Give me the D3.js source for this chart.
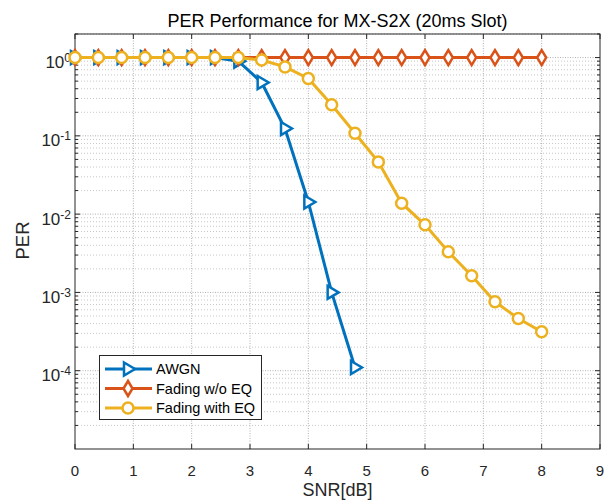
<!DOCTYPE html>
<html>
<head>
<meta charset="utf-8">
<script src="https://cdn.jsdelivr.net/npm/d3@7"></script>
<style>
  body { margin: 0; background: #fff; }
  text { font-family: "Liberation Sans", Arial, sans-serif; }
</style>
</head>
<body>
<div id="container"></div>
<script>
let w = 613;
let h = 500;
let margin = {top: 34, right: 13, bottom: 51, left: 75};

// DATA
let snr = [0, 0.4, 0.8, 1.2, 1.6, 2.0, 2.4, 2.8, 3.2, 3.6, 4.0, 4.4, 4.8, 5.2, 5.6, 6.0, 6.4, 6.8, 7.2, 7.6, 8.0];
let awgnSnr = [0, 0.4, 0.8, 1.2, 1.6, 2.0, 2.4, 2.8, 3.2, 3.6, 4.0, 4.4, 4.8];
let awgnPer = [1, 1, 1, 1, 1, 1, 1, 0.9, 0.48, 0.124, 0.0143, 0.001, 1.1e-4];
let noEqPer = [1, 1, 1, 1, 1, 1, 1, 1, 1, 1, 1, 1, 1, 1, 1, 1, 1, 1, 1, 1, 1];
let withEqPer = [1, 1, 1, 1, 1, 1, 1, 1, 0.93, 0.76, 0.54, 0.25, 0.108, 0.0465, 0.0138, 0.0073, 0.0033, 0.00163, 7.6e-4, 4.65e-4, 3.15e-4];
let xTicks = [0, 1, 2, 3, 4, 5, 6, 7, 8, 9];
let yExps = [0, -1, -2, -3, -4];
let seriesNames = ["AWGN", "Fading w/o EQ", "Fading with EQ"];

let colors = ["#0072BD", "#D95319", "#EDB120"];
let axisColor = "#262626";

let svg = d3.select("#container").append("svg")
    .attr("width", w)
    .attr("height", h);

let x = d3.scaleLinear().domain([0, 9]).range([margin.left, w - margin.right]);
let y = d3.scaleLog().domain([1e-5, 2]).range([h - margin.bottom, margin.top]);

let x0 = margin.left, x1 = w - margin.right;
let y0 = h - margin.bottom, y1 = margin.top;

// minor grid (log)
let minorVals = [];
for (let e = -5; e <= 0; e++) {
  for (let m = 2; m <= 9; m++) {
    let v = m * Math.pow(10, e);
    if (v <= 2) minorVals.push(v);
  }
}
svg.append("g").selectAll("line").data(minorVals).enter().append("line")
    .attr("x1", x0).attr("x2", x1)
    .attr("y1", d => y(d)).attr("y2", d => y(d))
    .attr("stroke", "#c8c8c8").attr("stroke-width", 1)
    .attr("stroke-dasharray", "1,2");

// major grid
svg.append("g").selectAll("line").data(xTicks.slice(1, -1)).enter().append("line")
    .attr("x1", d => x(d)).attr("x2", d => x(d))
    .attr("y1", y0).attr("y2", y1)
    .attr("stroke", "#b0b0b0").attr("stroke-width", 1)
    .attr("stroke-dasharray", "1,1.5");
svg.append("g").selectAll("line").data(yExps).enter().append("line")
    .attr("x1", x0).attr("x2", x1)
    .attr("y1", d => y(Math.pow(10, d))).attr("y2", d => y(Math.pow(10, d)))
    .attr("stroke", "#b0b0b0").attr("stroke-width", 1)
    .attr("stroke-dasharray", "1,1.5");

// box
svg.append("rect")
    .attr("x", x0).attr("y", y1)
    .attr("width", x1 - x0).attr("height", y0 - y1)
    .attr("fill", "none").attr("stroke", axisColor).attr("stroke-width", 1);

// ticks (inward)
let tk = svg.append("g").attr("stroke", axisColor).attr("stroke-width", 1);
xTicks.forEach(t => {
  tk.append("line").attr("x1", x(t)).attr("x2", x(t)).attr("y1", y0).attr("y2", y0 - 5);
  tk.append("line").attr("x1", x(t)).attr("x2", x(t)).attr("y1", y1).attr("y2", y1 + 5);
});
yExps.forEach(e => {
  let yy = y(Math.pow(10, e));
  tk.append("line").attr("x1", x0).attr("x2", x0 + 5).attr("y1", yy).attr("y2", yy);
  tk.append("line").attr("x1", x1).attr("x2", x1 - 5).attr("y1", yy).attr("y2", yy);
});
minorVals.forEach(v => {
  let yy = y(v);
  tk.append("line").attr("x1", x0).attr("x2", x0 + 3).attr("y1", yy).attr("y2", yy);
  tk.append("line").attr("x1", x1).attr("x2", x1 - 3).attr("y1", yy).attr("y2", yy);
});

// tick labels
svg.append("g").selectAll("text").data(xTicks).enter().append("text")
    .attr("x", d => x(d)).attr("y", y0 + 27)
    .attr("text-anchor", "middle")
    .attr("font-size", 15).attr("fill", axisColor)
    .text(d => d);

let yl = svg.append("g").selectAll("text").data(yExps).enter().append("text")
    .attr("x", x0 - 4).attr("y", d => y(Math.pow(10, d)) + 10.5)
    .attr("text-anchor", "end")
    .attr("font-size", 17).attr("fill", axisColor);
yl.append("tspan").text("10");
yl.append("tspan").attr("dy", -6).attr("font-size", 12).text(d => d);

// title and labels
svg.append("text")
    .attr("x", (x0 + x1) / 2).attr("y", 27)
    .attr("text-anchor", "middle")
    .attr("font-size", 18).attr("fill", "#000")
    .text("PER Performance for MX-S2X (20ms Slot)");
svg.append("text")
    .attr("x", (x0 + x1) / 2).attr("y", y0 + 47)
    .attr("text-anchor", "middle")
    .attr("font-size", 18).attr("fill", axisColor)
    .text("SNR[dB]");
svg.append("text")
    .attr("transform", "translate(29," + ((y0 + y1) / 2 - 1) + ") rotate(-90)")
    .attr("text-anchor", "middle")
    .attr("font-size", 18.5).attr("fill", axisColor)
    .text("PER");

// markers
function drawMarker(g, type, color) {
  if (type === 0) {
    g.append("path").attr("d", "M-4,-6.5 L7,0 L-4,6.5 Z");
  } else if (type === 1) {
    g.append("path").attr("d", "M0,-7.5 L4.5,0 L0,7.5 L-4.5,0 Z");
  } else {
    g.append("circle").attr("r", 5.5);
  }
  g.selectAll("path,circle")
    .attr("fill", "#fff").attr("stroke", color).attr("stroke-width", 2.5);
}

let series = [
  {xs: awgnSnr, ys: awgnPer},
  {xs: snr, ys: noEqPer},
  {xs: snr, ys: withEqPer}
];

let line = d3.line().x(d => x(d[0])).y(d => y(d[1]));
series.forEach((s, i) => {
  let pts = s.xs.map((v, j) => [v, s.ys[j]]);
  let g = svg.append("g");
  g.append("path").datum(pts)
      .attr("d", line)
      .attr("fill", "none").attr("stroke", colors[i]).attr("stroke-width", 3);
  pts.forEach(p => {
    let mg = g.append("g").attr("transform", "translate(" + x(p[0]) + "," + y(p[1]) + ")");
    drawMarker(mg, i, colors[i]);
  });
});

// legend
let lg = svg.append("g");
lg.append("rect")
    .attr("x", 99.5).attr("y", 355.5).attr("width", 162).attr("height", 64)
    .attr("fill", "#fff").attr("stroke", axisColor).attr("stroke-width", 1);
seriesNames.forEach((name, i) => {
  let yy = 369 + i * 19.5;
  lg.append("line").attr("x1", 105).attr("x2", 152).attr("y1", yy).attr("y2", yy)
      .attr("stroke", colors[i]).attr("stroke-width", 3);
  let mg = lg.append("g").attr("transform", "translate(128," + yy + ")");
  drawMarker(mg, i, colors[i]);
  lg.append("text").attr("x", 156).attr("y", yy + 5)
      .attr("font-size", 14.5).attr("fill", "#000").text(name);
});
</script>
</body>
</html>
